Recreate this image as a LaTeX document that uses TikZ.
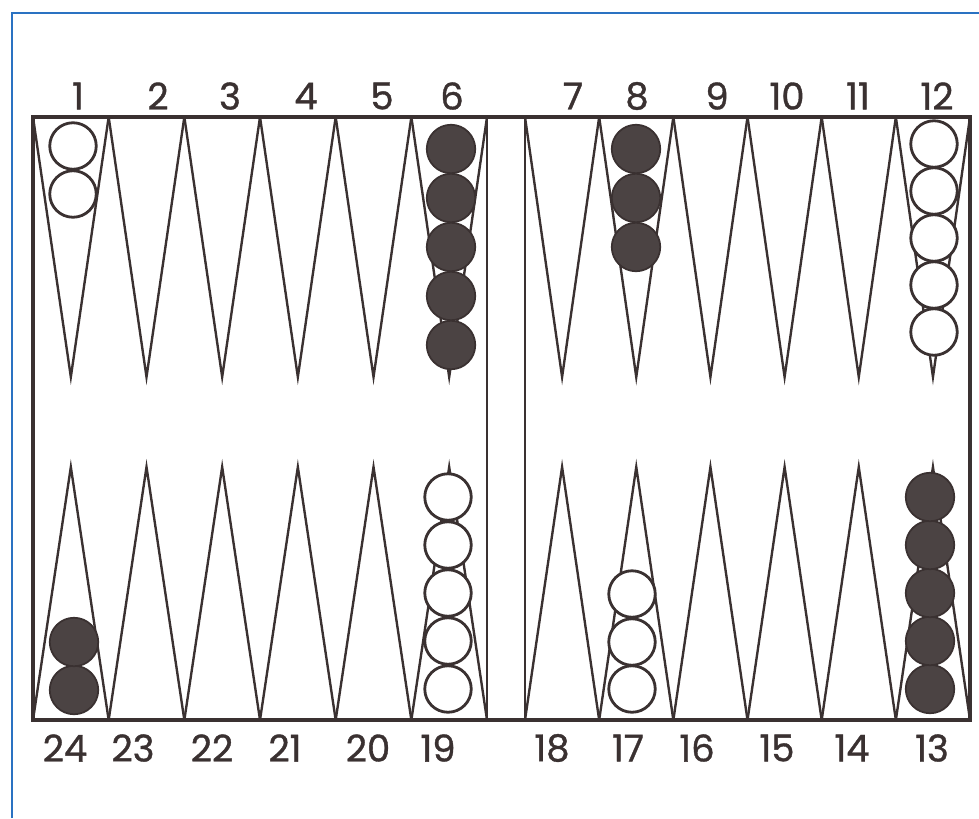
\documentclass[tikz,border=0pt]{standalone}
\usepackage{fontspec}
\setmainfont{Poppins}
\newfontfamily\numfont{Poppins}[FakeBold=1]
\definecolor{ink}{HTML}{3A3131}
\definecolor{stone}{HTML}{4B4343}
\definecolor{pageline}{HTML}{2A72C2}
\tikzset{
  board/.style={draw=ink,line width=2pt},
  bar/.style={draw=ink,line width=1pt},
  pointline/.style={draw=ink,line width=1.35pt,line join=miter},
  whitestone/.style={draw=ink,circle,fill=white,line width=1.6pt,minimum size=0.93cm,inner sep=0pt},
  darkstone/.style={draw=ink,circle,fill=stone,line width=1pt,minimum size=0.97cm,inner sep=0pt},
  num/.style={font=\numfont\fontsize{21}{23}\selectfont,text=ink,inner sep=0pt}
}
\begin{document}
\begin{tikzpicture}[x=0.02cm,y=-0.02cm]
  \useasboundingbox (0,0) rectangle (979,818);
  % page frame
  \draw[pageline,line width=1.2pt] (12,818) -- (12,13) -- (979,13);
  % points, left half
  \foreach \i in {0,...,5}{
    \pgfmathsetmacro\xa{33+75.67*\i}
    \pgfmathsetmacro\xb{33+75.67*(\i+1)}
    \draw[pointline] (\xa,117) -- ({(\xa+\xb)/2},377) -- (\xb,117);
    \draw[pointline] (\xa,720) -- ({(\xa+\xb)/2},467) -- (\xb,720);
  }
  % points, right half
  \foreach \i in {0,...,5}{
    \pgfmathsetmacro\xa{525+74.17*\i}
    \pgfmathsetmacro\xb{525+74.17*(\i+1)}
    \draw[pointline] (\xa,117) -- ({(\xa+\xb)/2},377) -- (\xb,117);
    \draw[pointline] (\xa,720) -- ({(\xa+\xb)/2},467) -- (\xb,720);
  }
  % board and bar
  \draw[board] (33,117) rectangle (970,720);
  \draw[bar] (487,117) -- (487,720);
  \draw[bar] (525,117) -- (525,720);
  % checkers
  \foreach \y [count=\k] in {146,194}
    \node[whitestone] (p1-\k) at (73,\y) {};
  \foreach \y [count=\k] in {149,198,247,296,345}
    \node[darkstone] (p6-\k) at (451,\y) {};
  \foreach \y [count=\k] in {149,198,247}
    \node[darkstone] (p8-\k) at (636,\y) {};
  \foreach \y [count=\k] in {144,191,238,285,332}
    \node[whitestone] (p12-\k) at (934,\y) {};
  \foreach \y [count=\k] in {689,641,593,545,497}
    \node[darkstone] (p13-\k) at (930,\y) {};
  \foreach \y [count=\k] in {689,642,594}
    \node[whitestone] (p17-\k) at (632,\y) {};
  \foreach \y [count=\k] in {689,641,593,545,497}
    \node[whitestone] (p19-\k) at (448,\y) {};
  \foreach \y [count=\k] in {690,642}
    \node[darkstone] (p24-\k) at (74,\y) {};
  % point numbers
  \foreach \n/\x in {1/78,2/158,3/230,4/306,5/382,6/452,7/573,8/637,9/717,10/787,11/858,12/937}
    \node[num] (top\n) at (\x,96) {\n};
  \foreach \n/\x in {24/65,23/133,22/212,21/285,20/368,19/438,18/552,17/628,16/697,15/777,14/852,13/932}
    \node[num] (bot\n) at (\x,748) {\n};
\end{tikzpicture}
\end{document}
